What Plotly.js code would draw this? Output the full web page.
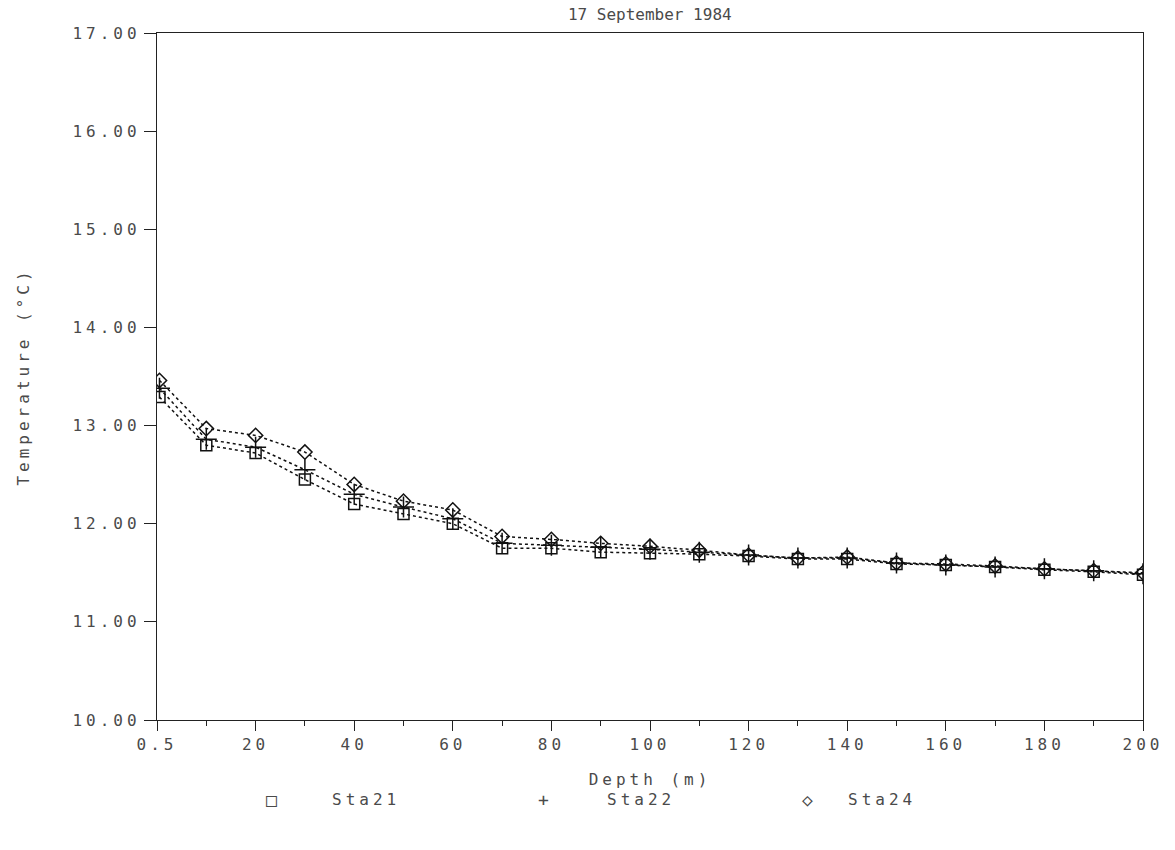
<!DOCTYPE html>
<html>
<head>
<meta charset="utf-8">
<script src="https://cdn.plot.ly/plotly-3.0.1.min.js"></script>
<style>
html,body{margin:0;padding:0;background:#fff;}
#chart{width:1175px;height:850px;}
#chart text{letter-spacing:4px;}
#chart .gtitle{letter-spacing:0px;}
</style>
</head>
<body>
<div id="chart"></div>
<script>
const depth = [0.5, 10, 20, 30, 40, 50, 60, 70, 80, 90, 100, 110, 120, 130, 140, 150, 160, 170, 180, 190, 200];
const sta21 = [13.29, 12.80, 12.72, 12.45, 12.20, 12.10, 12.00, 11.75, 11.75, 11.71, 11.70, 11.69, 11.67, 11.64, 11.64, 11.59, 11.58, 11.56, 11.53, 11.51, 11.48];
const sta22 = [13.38, 12.86, 12.78, 12.55, 12.30, 12.17, 12.05, 11.80, 11.78, 11.76, 11.74, 11.71, 11.68, 11.65, 11.65, 11.60, 11.58, 11.56, 11.54, 11.52, 11.49];
const sta24 = [13.46, 12.97, 12.90, 12.73, 12.40, 12.23, 12.14, 11.87, 11.84, 11.80, 11.77, 11.73, 11.68, 11.65, 11.66, 11.60, 11.59, 11.57, 11.54, 11.52, 11.50];
const seriesNames = ["Sta21", "Sta22", "Sta24"];
const legendGlyphs = ["\u25A1", "+", "\u25C7"];
const xTickVals = [0, 20, 40, 60, 80, 100, 120, 140, 160, 180, 200];
const xTickText = ["0.5", "20", "40", "60", "80", "100", "120", "140", "160", "180", "200"];
const yTickVals = [10, 11, 12, 13, 14, 15, 16, 17];
const yTickText = ["10.00", "11.00", "12.00", "13.00", "14.00", "15.00", "16.00", "17.00"];

const FONT = "DejaVu Sans Mono, Liberation Mono, monospace";
const TXT = "#4a4a4a";
const FS = 16;
const symbols = ["square-open", "cross-thin-open", "diamond-open"];
const data = [sta21, sta22, sta24].map((ys, i) => ({
  x: depth, y: ys, name: seriesNames[i], type: "scatter", mode: "lines+markers",
  line: {color: "#111", width: 1.5, dash: "dot"},
  marker: {symbol: symbols[i], size: i === 1 ? 15 : 11, color: "#111", line: {color: "#111", width: 1.5}},
  showlegend: false
}));

const glyphX = [0.118, 0.394, 0.662];
const nameX = [0.212, 0.491, 0.735];
const annotations = [];
seriesNames.forEach((n, i) => {
  annotations.push({xref: "paper", yref: "paper", x: glyphX[i], y: -0.116, text: legendGlyphs[i],
    showarrow: false, font: {family: FONT, size: 18, color: TXT}, xanchor: "center", yanchor: "middle"});
  annotations.push({xref: "paper", yref: "paper", x: nameX[i], y: -0.116, text: n,
    showarrow: false, font: {family: FONT, size: FS, color: TXT}, xanchor: "center", yanchor: "middle"});
});

const layout = {
  width: 1175, height: 850,
  margin: {l: 157, r: 32, t: 33, b: 130},
  paper_bgcolor: "#fff", plot_bgcolor: "#fff",
  title: {text: "17 September 1984", font: {family: FONT, size: FS, color: TXT}, x: 0.553, xanchor: "center", y: 0.99, yanchor: "top"},
  xaxis: {
    range: [0, 200], tickvals: xTickVals, ticktext: xTickText,
    ticks: "outside", ticklen: 10, tickwidth: 1, tickcolor: "#222",
    minor: {dtick: 10, tick0: 0, ticks: "outside", ticklen: 5, tickcolor: "#222", showgrid: false},
    showline: true, linecolor: "#222", linewidth: 1.2, mirror: true,
    showgrid: false, zeroline: false,
    tickfont: {family: FONT, size: FS, color: TXT},
    title: {text: "Depth (m)", font: {family: FONT, size: FS, color: TXT}, standoff: 20}
  },
  yaxis: {
    range: [10, 17], tickvals: yTickVals, ticktext: yTickText,
    ticks: "outside", ticklen: 12, tickwidth: 1, tickcolor: "#222",
    showline: true, linecolor: "#222", linewidth: 1.2, mirror: true,
    showgrid: false, zeroline: false,
    tickfont: {family: FONT, size: FS, color: TXT},
    title: {text: "Temperature (°C)", font: {family: FONT, size: FS, color: TXT}, standoff: 58}
  },
  annotations: annotations,
  showlegend: false
};
Plotly.newPlot("chart", data, layout, {staticPlot: true});
</script>
</body>
</html>
